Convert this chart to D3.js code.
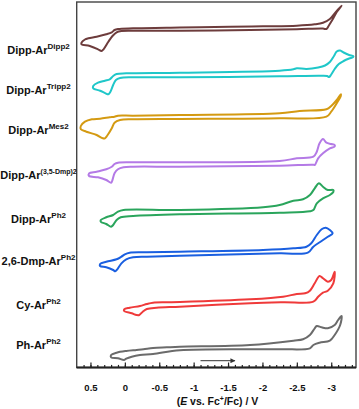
<!DOCTYPE html>
<html>
<head>
<meta charset="utf-8">
<script src="https://cdn.jsdelivr.net/npm/d3@7"></script>
<style>
body { margin: 0; background: #fff; }
text { font-family: "Liberation Sans", Arial, sans-serif; font-weight: bold; fill: #111; }
</style>
</head>
<body>
<svg id="chart" width="359" height="409"></svg>
<script>
// compound labels: main text + superscript
var names = ["Dipp-Ar", "Dipp-Ar", "Dipp-Ar", "Dipp-Ar", "Dipp-Ar", "2,6-Dmp-Ar", "Cy-Ar", "Ph-Ar"];
var supers = ["Dipp2", "Tripp2", "Mes2", "(3,5-Dmp)2", "Ph2", "Ph2", "Ph2", "Ph2"];

// vertical stacking offset of each voltammogram (current, arb. units)
var offsets = [338.5, 290.2, 248.5, 200.8, 153.5, 111.5, 64.5, 18.5];

// [E (V vs Fc+/Fc), current (arb.)], traced round each closed loop
var dippDipp = [[0.63,-13.7],[0.58,-10.5],[0.53,-9.3],[0.41,-7.7],[0.27,-5.3],[0.19,-3.3],[0.15,-1.0],[0.10,0],[-0.12,0.7],[-0.80,1.5],[-1.53,2.2],[-2.01,2.7],[-2.50,3.3],[-2.76,4.7],[-2.88,6.3],[-2.98,10],[-3.05,15.7],[-3.15,23.3],
  [-3.14,22.3],[-3.08,17],[-3.03,10.7],[-2.97,4],[-2.93,0],[-2.88,0.4],[-2.50,-0.2],[-1.82,-1],[-0.80,-1.7],[-0.12,-1.7],[0.05,-2],[0.12,-3.3],[0.18,-7],[0.24,-12.7],[0.31,-20.3],[0.34,-22],[0.39,-20.3],[0.51,-17],[0.63,-15.3]];

var dippTripp = [[0.46,-8.7],[0.39,-5.4],[0.29,-3.4],[0.22,-2],[0.17,1.3],[0.12,3.3],[-0.02,4],[-0.80,4.6],[-2.25,6.6],[-2.45,8],[-2.50,9],[-2.64,8.3],[-2.81,9.8],[-2.91,11.8],[-2.98,15.3],[-3.04,21.3],[-3.08,25.8],[-3.13,26.8],[-3.18,24.8],[-3.26,22.3],[-3.32,21.3],
  [-3.32,20.3],[-3.26,18.8],[-3.18,16.3],[-3.11,13.3],[-3.05,8.3],[-3.00,2.8],[-2.97,0.3],[-2.94,1.3],[-2.83,1.5],[-2.25,1],[-0.80,0],[-0.12,0],[0.07,-0.7],[0.13,-2.7],[0.17,-7.7],[0.21,-14.4],[0.24,-17],[0.28,-16],[0.36,-13.4],[0.46,-11]];

var dippMes = [[0.64,-7],[0.58,-2.7],[0.48,-0.3],[0.36,0.3],[0.22,1.7],[0.15,2.3],[0.10,3.3],[-0.12,3.3],[-0.80,4],[-2.25,5.7],[-2.54,8],[-2.93,9.7],[-3.00,13],[-3.08,19],[-3.14,24.7],
  [-3.14,23.3],[-3.08,15.7],[-3.00,7.3],[-2.93,2.3],[-2.25,0.7],[-0.80,0],[-0.12,-0.3],[0.07,-1],[0.15,-3.7],[0.19,-9.3],[0.26,-17],[0.29,-19.3],[0.32,-19.3],[0.41,-16],[0.56,-12.7],[0.64,-10.3]];

var dippDmp = [[0.52,-6.6],[0.41,-5],[0.27,-2.6],[0.19,0],[0.15,2.7],[0.10,4],[-0.12,4.4],[-0.80,4.4],[-2.25,5.7],[-2.50,8.4],[-2.74,10],[-2.79,15],[-2.83,23.4],[-2.88,27.7],[-2.93,24],[-3.00,22.7],[-3.05,21.7],
  [-3.05,20.2],[-2.98,18.4],[-2.88,13.4],[-2.81,8.4],[-2.76,1.7],[-2.74,2],[-2.25,1],[-0.80,0],[-0.12,0],[0.02,-0.6],[0.10,-2.6],[0.15,-6.6],[0.18,-13.3],[0.20,-16],[0.27,-13.3],[0.39,-10.6],[0.52,-9.3]];

var dippPh = [[0.35,-6],[0.27,-3.3],[0.17,-1],[0.10,2.3],[0.02,4],[-0.80,4],[-2.01,6.7],[-2.25,9],[-2.45,13.3],[-2.59,14.7],[-2.69,19],[-2.76,25.7],[-2.82,30.7],[-2.88,27.3],[-2.95,24],[-3.03,24],
  [-3.03,22],[-2.98,19],[-2.88,15.7],[-2.79,10.7],[-2.74,4],[-2.69,2.7],[-2.25,1.3],[-0.80,-0.3],[-0.12,-2],[0.06,-3.3],[0.12,-6],[0.17,-11],[0.20,-12.7],[0.27,-10],[0.35,-7.7]];

var dmpPh = [[0.36,-8],[0.27,-5.7],[0.12,-3.3],[0.05,-0.7],[0,1.7],[-0.07,3.3],[-0.32,3.7],[-0.80,4.3],[-2.01,6],[-2.45,7.7],[-2.64,9.3],[-2.71,12.7],[-2.79,21],[-2.86,26.7],[-2.92,28.3],[-2.98,26],[-3.02,22.7],
  [-2.95,19.3],[-2.86,15],[-2.74,9.3],[-2.66,3.3],[-2.25,2.7],[-0.80,0.3],[-0.32,-0.7],[-0.12,-1.3],[-0.02,-3.3],[0.05,-7.3],[0.11,-13.3],[0.14,-15.3],[0.17,-14],[0.27,-11.3],[0.36,-10]];

var cyPh = [[0.01,-6.3],[-0.07,-4.7],[-0.22,-3],[-0.32,-1],[-0.41,0.3],[-0.61,0.7],[-0.80,1],[-1.82,3.7],[-2.30,6.3],[-2.50,9],[-2.62,9.7],[-2.69,12.3],[-2.76,19.7],[-2.83,27],[-2.88,24.7],[-2.95,21.3],[-3.00,23],[-3.05,31.3],
  [-3.03,19.7],[-2.95,12.3],[-2.88,10.3],[-2.81,6.3],[-2.74,1.3],[-2.30,0.7],[-1.82,-0.3],[-0.80,-3.7],[-0.46,-4.7],[-0.32,-6],[-0.26,-8.7],[-0.21,-12],[-0.17,-12],[-0.10,-10.3],[0.01,-8]];

var phPh = [[0.20,-6],[0.12,-3.7],[-0.02,-2],[-0.17,-1],[-0.27,-0.3],[-0.41,1],[-0.61,1.7],[-0.80,2.3],[-1.82,4],[-2.45,8.3],[-2.59,9.7],[-2.69,14],[-2.76,20.7],[-2.79,23],[-2.86,21.7],[-2.95,20.7],[-3.05,24],[-3.10,29],[-3.15,33],
  [-3.13,24],[-3.05,14],[-2.98,8.3],[-2.83,6.3],[-2.74,4],[-2.69,0.7],[-2.30,-0.3],[-1.82,-0.3],[-0.80,-1.3],[-0.41,-5],[-0.22,-6],[-0.10,-7.7],[-0.02,-9.7],[0.01,-11],[0.10,-9.3],[0.20,-8.3]];

var traces = [dippDipp, dippTripp, dippMes, dippDmp, dippPh, dmpPh, cyPh, phPh];

// axis ticks
var majorTicks = [0.5, 0, -0.5, -1, -1.5, -2, -2.5, -3];
var tickLabels = ["0.5", "0", "-0.5", "-1", "-1.5", "-2", "-2.5", "-3"];
var minorTicks = d3.range(6, -34, -1).map(function(v) { return v / 10; });

// scan direction arrow (V)
var arrowFrom = -1.1, arrowTo = -1.6;

// styles
var colors = ["#6d3c3c", "#1fc7c9", "#d49a12", "#b47ae6", "#2aa55c", "#1a5fe0", "#ef3a3a", "#6b6b6b"];
var labelY = [54, 94, 134, 179, 223, 265, 309, 349];
var supSize = [8, 8, 8, 7, 8, 8, 8, 8];

var plotLeft = 76.7, plotRight = 356, plotTop = 2, plotBottom = 367.5;

var svg = d3.select("#chart");

var x = d3.scaleLinear().domain([0.7, -3.36]).range([plotLeft, plotRight]);
var y = d3.scaleLinear().domain([0, 365]).range([plotBottom, plotBottom - 365]);

svg.append("defs").append("marker")
    .attr("id", "head")
    .attr("viewBox", "0 0 10 10")
    .attr("refX", 9).attr("refY", 5)
    .attr("markerWidth", 7).attr("markerHeight", 5)
    .attr("markerUnits", "userSpaceOnUse")
    .attr("orient", "auto")
    .append("path")
    .attr("d", "M0,0L10,5L0,10z")
    .attr("fill", "#333");

// frame
svg.append("rect")
    .attr("x", plotLeft).attr("y", plotTop)
    .attr("width", plotRight - plotLeft).attr("height", plotBottom - plotTop)
    .attr("fill", "none")
    .attr("stroke", "#444")
    .attr("stroke-width", 1.4);

svg.append("line")
    .attr("x1", plotLeft).attr("x2", plotRight)
    .attr("y1", plotBottom).attr("y2", plotBottom)
    .attr("stroke", "#222")
    .attr("stroke-width", 1.8);

// minor + major ticks pointing inward
var minorAxis = svg.append("g")
    .attr("transform", "translate(0," + plotBottom + ")")
    .call(d3.axisBottom(x).tickValues(minorTicks).tickSize(-2.6).tickFormat(""));
minorAxis.select(".domain").remove();

var majorAxis = svg.append("g")
    .attr("transform", "translate(0," + plotBottom + ")")
    .call(d3.axisBottom(x).tickValues(majorTicks).tickSize(-5).tickPadding(17)
        .tickFormat(function(d, i) { return tickLabels[i]; }));
majorAxis.select(".domain").remove();
svg.selectAll(".tick line").attr("stroke", "#222").attr("stroke-width", 1.2);
majorAxis.selectAll("text")
    .style("font-family", "'Liberation Sans', Arial, sans-serif")
    .style("font-weight", "bold")
    .style("font-size", "9.5px")
    .attr("fill", "#111");

// voltammograms
var line = d3.line()
    .curve(d3.curveCatmullRomClosed.alpha(0.5));

svg.append("g").selectAll("path")
    .data(traces)
    .enter().append("path")
    .attr("d", function(d, k) {
        return line.x(function(p) { return x(p[0]); })
                   .y(function(p) { return y(p[1] + offsets[k]); })(d);
    })
    .attr("fill", "none")
    .attr("stroke", function(d, k) { return colors[k]; })
    .attr("stroke-width", 2)
    .attr("stroke-linejoin", "round");

// compound labels
var labels = svg.append("g").selectAll("text")
    .data(names)
    .enter().append("text")
    .attr("x", 38.5)
    .attr("y", function(d, i) { return labelY[i]; })
    .attr("text-anchor", "middle")
    .style("font-size", "11px");
labels.append("tspan").text(function(d) { return d; });
labels.append("tspan")
    .attr("dy", -5)
    .style("font-size", function(d, i) { return supSize[i] + "px"; })
    .text(function(d, i) { return supers[i]; });

// scan arrow
svg.append("line")
    .attr("x1", x(arrowFrom)).attr("x2", x(arrowTo))
    .attr("y1", y(6.8)).attr("y2", y(6.8))
    .attr("stroke", "#333")
    .attr("stroke-width", 1)
    .attr("marker-end", "url(#head)");

// axis title
var title = svg.append("text")
    .attr("x", 217.5).attr("y", 405)
    .attr("text-anchor", "middle")
    .style("font-size", "10.5px");
title.append("tspan").text("(");
title.append("tspan").style("font-style", "italic").text("E");
title.append("tspan").text(" vs. Fc");
title.append("tspan").attr("dy", -4).style("font-size", "7px").text("+");
title.append("tspan").attr("dy", 4).text("/Fc) / V");
</script>
</body>
</html>
